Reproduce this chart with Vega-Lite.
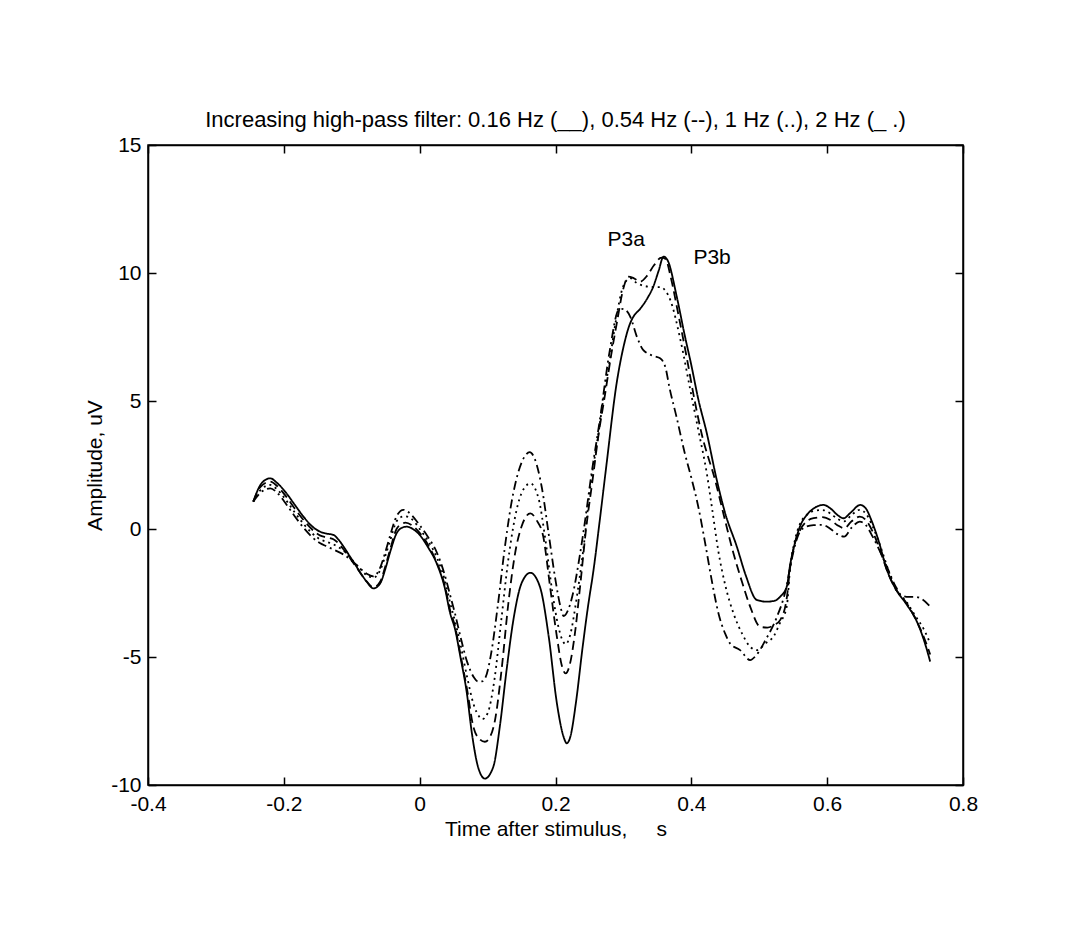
{
  "$schema": "https://vega.github.io/schema/vega-lite/v6.json",
  "width": 815,
  "height": 640,
  "autosize": "none",
  "padding": {"left": 148, "top": 145, "right": 103, "bottom": 159},
  "background": "white",
  "config": {
    "font": "Liberation Sans",
    "view": {"stroke": "black", "strokeWidth": 1.5},
    "axis": {
      "domainColor": "black", "domainWidth": 1.5,
      "tickColor": "black", "tickWidth": 1.5, "tickSize": -8,
      "labelColor": "black", "titleColor": "black",
      "labelFont": "Liberation Sans", "titleFont": "Liberation Sans",
      "labelFontSize": 21, "titleFontSize": 21, "titleFontWeight": "normal",
      "grid": false, "labelFlush": false, "labelOverlap": false, "labelBound": false
    }
  },
  "title": {
    "text": "Increasing high-pass filter: 0.16 Hz (__), 0.54 Hz (--), 1 Hz (..), 2 Hz (_ .)",
    "font": "Liberation Sans", "fontSize": 22, "fontWeight": "normal", "color": "black",
    "anchor": "middle", "offset": 2
  },
  "data": {"values": [
    {"f":"0.16 Hz","t":-0.245,"v":1.07},{"f":"0.16 Hz","t":-0.235,"v":1.7},{"f":"0.16 Hz","t":-0.225,"v":1.95},{"f":"0.16 Hz","t":-0.22,"v":1.98},{"f":"0.16 Hz","t":-0.21,"v":1.8},{"f":"0.16 Hz","t":-0.196,"v":1.39},{"f":"0.16 Hz","t":-0.184,"v":0.95},{"f":"0.16 Hz","t":-0.171,"v":0.48},{"f":"0.16 Hz","t":-0.159,"v":0.12},{"f":"0.16 Hz","t":-0.147,"v":-0.1},{"f":"0.16 Hz","t":-0.137,"v":-0.18},{"f":"0.16 Hz","t":-0.127,"v":-0.23},{"f":"0.16 Hz","t":-0.12,"v":-0.4},{"f":"0.16 Hz","t":-0.112,"v":-0.69},{"f":"0.16 Hz","t":-0.102,"v":-1.1},{"f":"0.16 Hz","t":-0.093,"v":-1.47},{"f":"0.16 Hz","t":-0.085,"v":-1.8},{"f":"0.16 Hz","t":-0.078,"v":-2.06},{"f":"0.16 Hz","t":-0.068,"v":-2.32},{"f":"0.16 Hz","t":-0.058,"v":-2.12},{"f":"0.16 Hz","t":-0.051,"v":-1.6},{"f":"0.16 Hz","t":-0.044,"v":-0.95},{"f":"0.16 Hz","t":-0.034,"v":-0.17},{"f":"0.16 Hz","t":-0.026,"v":0.05},{"f":"0.16 Hz","t":-0.019,"v":0.09},{"f":"0.16 Hz","t":-0.01,"v":0.0},{"f":"0.16 Hz","t":0.0,"v":-0.23},{"f":"0.16 Hz","t":0.012,"v":-0.7},{"f":"0.16 Hz","t":0.025,"v":-1.34},{"f":"0.16 Hz","t":0.037,"v":-2.3},{"f":"0.16 Hz","t":0.045,"v":-3.3},{"f":"0.16 Hz","t":0.052,"v":-3.9},{"f":"0.16 Hz","t":0.06,"v":-5.0},{"f":"0.16 Hz","t":0.0694,"v":-6.4},{"f":"0.16 Hz","t":0.077,"v":-8.0},{"f":"0.16 Hz","t":0.086,"v":-9.3},{"f":"0.16 Hz","t":0.096,"v":-9.75},{"f":"0.16 Hz","t":0.1085,"v":-9.28},{"f":"0.16 Hz","t":0.118,"v":-7.72},{"f":"0.16 Hz","t":0.128,"v":-5.5},{"f":"0.16 Hz","t":0.138,"v":-3.55},{"f":"0.16 Hz","t":0.15,"v":-2.12},{"f":"0.16 Hz","t":0.163,"v":-1.71},{"f":"0.16 Hz","t":0.177,"v":-2.25},{"f":"0.16 Hz","t":0.19,"v":-4.2},{"f":"0.16 Hz","t":0.202,"v":-6.8},{"f":"0.16 Hz","t":0.2117,"v":-8.1},{"f":"0.16 Hz","t":0.2166,"v":-8.37},{"f":"0.16 Hz","t":0.222,"v":-8.1},{"f":"0.16 Hz","t":0.23,"v":-6.8},{"f":"0.16 Hz","t":0.24,"v":-4.6},{"f":"0.16 Hz","t":0.248,"v":-3.0},{"f":"0.16 Hz","t":0.256,"v":-1.6},{"f":"0.16 Hz","t":0.265,"v":0.3},{"f":"0.16 Hz","t":0.275,"v":2.5},{"f":"0.16 Hz","t":0.29,"v":5.69},{"f":"0.16 Hz","t":0.3,"v":7.1},{"f":"0.16 Hz","t":0.31,"v":8.04},{"f":"0.16 Hz","t":0.3146,"v":8.29},{"f":"0.16 Hz","t":0.3246,"v":8.6},{"f":"0.16 Hz","t":0.335,"v":9.0},{"f":"0.16 Hz","t":0.344,"v":9.47},{"f":"0.16 Hz","t":0.352,"v":10.1},{"f":"0.16 Hz","t":0.359,"v":10.64},{"f":"0.16 Hz","t":0.365,"v":10.5},{"f":"0.16 Hz","t":0.3786,"v":9.07},{"f":"0.16 Hz","t":0.39,"v":7.6},{"f":"0.16 Hz","t":0.4,"v":6.4},{"f":"0.16 Hz","t":0.41,"v":5.1},{"f":"0.16 Hz","t":0.4228,"v":3.74},{"f":"0.16 Hz","t":0.4375,"v":1.91},{"f":"0.16 Hz","t":0.45,"v":0.6},{"f":"0.16 Hz","t":0.467,"v":-0.69},{"f":"0.16 Hz","t":0.48,"v":-1.8},{"f":"0.16 Hz","t":0.4963,"v":-2.77},{"f":"0.16 Hz","t":0.511,"v":-2.84},{"f":"0.16 Hz","t":0.523,"v":-2.8},{"f":"0.16 Hz","t":0.531,"v":-2.64},{"f":"0.16 Hz","t":0.5405,"v":-2.25},{"f":"0.16 Hz","t":0.5455,"v":-1.4},{"f":"0.16 Hz","t":0.552,"v":-0.6},{"f":"0.16 Hz","t":0.56,"v":0.1},{"f":"0.16 Hz","t":0.57,"v":0.55},{"f":"0.16 Hz","t":0.58,"v":0.8},{"f":"0.16 Hz","t":0.5946,"v":0.94},{"f":"0.16 Hz","t":0.605,"v":0.8},{"f":"0.16 Hz","t":0.615,"v":0.55},{"f":"0.16 Hz","t":0.624,"v":0.42},{"f":"0.16 Hz","t":0.635,"v":0.65},{"f":"0.16 Hz","t":0.6486,"v":0.94},{"f":"0.16 Hz","t":0.657,"v":0.8},{"f":"0.16 Hz","t":0.665,"v":0.35},{"f":"0.16 Hz","t":0.675,"v":-0.4},{"f":"0.16 Hz","t":0.688,"v":-1.6},{"f":"0.16 Hz","t":0.7,"v":-2.3},{"f":"0.16 Hz","t":0.717,"v":-2.95},{"f":"0.16 Hz","t":0.73,"v":-3.5},{"f":"0.16 Hz","t":0.742,"v":-4.3},{"f":"0.16 Hz","t":0.7517,"v":-5.18},

    {"f":"0.54 Hz","t":-0.245,"v":1.07},{"f":"0.54 Hz","t":-0.235,"v":1.62},{"f":"0.54 Hz","t":-0.22,"v":1.85},{"f":"0.54 Hz","t":-0.21,"v":1.68},{"f":"0.54 Hz","t":-0.196,"v":1.25},{"f":"0.54 Hz","t":-0.184,"v":0.8},{"f":"0.54 Hz","t":-0.171,"v":0.35},{"f":"0.54 Hz","t":-0.159,"v":0.0},{"f":"0.54 Hz","t":-0.147,"v":-0.25},{"f":"0.54 Hz","t":-0.137,"v":-0.33},{"f":"0.54 Hz","t":-0.127,"v":-0.4},{"f":"0.54 Hz","t":-0.12,"v":-0.55},{"f":"0.54 Hz","t":-0.112,"v":-0.8},{"f":"0.54 Hz","t":-0.093,"v":-1.5},{"f":"0.54 Hz","t":-0.078,"v":-2.05},{"f":"0.54 Hz","t":-0.068,"v":-2.28},{"f":"0.54 Hz","t":-0.058,"v":-2.05},{"f":"0.54 Hz","t":-0.051,"v":-1.5},{"f":"0.54 Hz","t":-0.044,"v":-0.85},{"f":"0.54 Hz","t":-0.034,"v":0.0},{"f":"0.54 Hz","t":-0.026,"v":0.2},{"f":"0.54 Hz","t":-0.021,"v":0.25},{"f":"0.54 Hz","t":-0.01,"v":0.12},{"f":"0.54 Hz","t":0.0,"v":-0.15},{"f":"0.54 Hz","t":0.012,"v":-0.6},{"f":"0.54 Hz","t":0.025,"v":-1.3},{"f":"0.54 Hz","t":0.037,"v":-2.2},{"f":"0.54 Hz","t":0.045,"v":-3.2},{"f":"0.54 Hz","t":0.052,"v":-3.8},{"f":"0.54 Hz","t":0.06,"v":-4.9},{"f":"0.54 Hz","t":0.07,"v":-6.3},{"f":"0.54 Hz","t":0.079,"v":-7.72},{"f":"0.54 Hz","t":0.088,"v":-8.2},{"f":"0.54 Hz","t":0.096,"v":-8.31},{"f":"0.54 Hz","t":0.104,"v":-8.1},{"f":"0.54 Hz","t":0.111,"v":-7.46},{"f":"0.54 Hz","t":0.1206,"v":-5.5},{"f":"0.54 Hz","t":0.1306,"v":-2.9},{"f":"0.54 Hz","t":0.1405,"v":-0.95},{"f":"0.54 Hz","t":0.15,"v":0.1},{"f":"0.54 Hz","t":0.163,"v":0.61},{"f":"0.54 Hz","t":0.172,"v":0.35},{"f":"0.54 Hz","t":0.182,"v":-0.3},{"f":"0.54 Hz","t":0.192,"v":-2.25},{"f":"0.54 Hz","t":0.202,"v":-4.2},{"f":"0.54 Hz","t":0.209,"v":-5.3},{"f":"0.54 Hz","t":0.215,"v":-5.64},{"f":"0.54 Hz","t":0.221,"v":-5.3},{"f":"0.54 Hz","t":0.228,"v":-4.2},{"f":"0.54 Hz","t":0.236,"v":-2.3},{"f":"0.54 Hz","t":0.245,"v":0.0},{"f":"0.54 Hz","t":0.255,"v":2.0},{"f":"0.54 Hz","t":0.264,"v":3.8},{"f":"0.54 Hz","t":0.272,"v":5.1},{"f":"0.54 Hz","t":0.282,"v":6.8},{"f":"0.54 Hz","t":0.29,"v":8.0},{"f":"0.54 Hz","t":0.3,"v":9.4},{"f":"0.54 Hz","t":0.307,"v":9.86},{"f":"0.54 Hz","t":0.315,"v":9.8},{"f":"0.54 Hz","t":0.3246,"v":9.66},{"f":"0.54 Hz","t":0.335,"v":9.9},{"f":"0.54 Hz","t":0.345,"v":10.3},{"f":"0.54 Hz","t":0.356,"v":10.6},{"f":"0.54 Hz","t":0.362,"v":10.55},{"f":"0.54 Hz","t":0.37,"v":9.8},{"f":"0.54 Hz","t":0.38,"v":8.5},{"f":"0.54 Hz","t":0.393,"v":6.73},{"f":"0.54 Hz","t":0.405,"v":5.0},{"f":"0.54 Hz","t":0.415,"v":3.74},{"f":"0.54 Hz","t":0.435,"v":1.91},{"f":"0.54 Hz","t":0.45,"v":0.3},{"f":"0.54 Hz","t":0.462,"v":-0.95},{"f":"0.54 Hz","t":0.475,"v":-2.1},{"f":"0.54 Hz","t":0.4866,"v":-3.03},{"f":"0.54 Hz","t":0.5013,"v":-3.82},{"f":"0.54 Hz","t":0.512,"v":-3.85},{"f":"0.54 Hz","t":0.522,"v":-3.75},{"f":"0.54 Hz","t":0.531,"v":-3.55},{"f":"0.54 Hz","t":0.5405,"v":-2.7},{"f":"0.54 Hz","t":0.5455,"v":-1.5},{"f":"0.54 Hz","t":0.552,"v":-0.6},{"f":"0.54 Hz","t":0.56,"v":-0.05},{"f":"0.54 Hz","t":0.57,"v":0.3},{"f":"0.54 Hz","t":0.58,"v":0.42},{"f":"0.54 Hz","t":0.593,"v":0.46},{"f":"0.54 Hz","t":0.605,"v":0.35},{"f":"0.54 Hz","t":0.615,"v":0.15},{"f":"0.54 Hz","t":0.625,"v":0.03},{"f":"0.54 Hz","t":0.636,"v":0.3},{"f":"0.54 Hz","t":0.648,"v":0.48},{"f":"0.54 Hz","t":0.657,"v":0.35},{"f":"0.54 Hz","t":0.667,"v":-0.1},{"f":"0.54 Hz","t":0.68,"v":-1.0},{"f":"0.54 Hz","t":0.69,"v":-1.75},{"f":"0.54 Hz","t":0.7,"v":-2.3},{"f":"0.54 Hz","t":0.717,"v":-2.9},{"f":"0.54 Hz","t":0.73,"v":-3.5},{"f":"0.54 Hz","t":0.742,"v":-4.2},{"f":"0.54 Hz","t":0.7517,"v":-4.9},

    {"f":"1 Hz","t":-0.245,"v":1.07},{"f":"1 Hz","t":-0.235,"v":1.5},{"f":"1 Hz","t":-0.22,"v":1.72},{"f":"1 Hz","t":-0.21,"v":1.55},{"f":"1 Hz","t":-0.196,"v":1.1},{"f":"1 Hz","t":-0.184,"v":0.65},{"f":"1 Hz","t":-0.171,"v":0.2},{"f":"1 Hz","t":-0.159,"v":-0.15},{"f":"1 Hz","t":-0.147,"v":-0.4},{"f":"1 Hz","t":-0.137,"v":-0.5},{"f":"1 Hz","t":-0.127,"v":-0.6},{"f":"1 Hz","t":-0.112,"v":-0.85},{"f":"1 Hz","t":-0.093,"v":-1.4},{"f":"1 Hz","t":-0.078,"v":-1.8},{"f":"1 Hz","t":-0.068,"v":-1.9},{"f":"1 Hz","t":-0.058,"v":-1.6},{"f":"1 Hz","t":-0.05,"v":-1.0},{"f":"1 Hz","t":-0.044,"v":-0.5},{"f":"1 Hz","t":-0.034,"v":0.3},{"f":"1 Hz","t":-0.026,"v":0.48},{"f":"1 Hz","t":-0.022,"v":0.5},{"f":"1 Hz","t":-0.01,"v":0.35},{"f":"1 Hz","t":0.0,"v":0.0},{"f":"1 Hz","t":0.012,"v":-0.45},{"f":"1 Hz","t":0.025,"v":-1.1},{"f":"1 Hz","t":0.037,"v":-2.0},{"f":"1 Hz","t":0.045,"v":-2.9},{"f":"1 Hz","t":0.052,"v":-3.6},{"f":"1 Hz","t":0.06,"v":-4.5},{"f":"1 Hz","t":0.07,"v":-5.8},{"f":"1 Hz","t":0.08,"v":-6.9},{"f":"1 Hz","t":0.087,"v":-7.3},{"f":"1 Hz","t":0.092,"v":-7.43},{"f":"1 Hz","t":0.1,"v":-7.2},{"f":"1 Hz","t":0.11,"v":-5.9},{"f":"1 Hz","t":0.12,"v":-3.6},{"f":"1 Hz","t":0.13,"v":-1.3},{"f":"1 Hz","t":0.14,"v":0.4},{"f":"1 Hz","t":0.15,"v":1.4},{"f":"1 Hz","t":0.163,"v":1.78},{"f":"1 Hz","t":0.175,"v":1.2},{"f":"1 Hz","t":0.185,"v":-0.4},{"f":"1 Hz","t":0.195,"v":-2.4},{"f":"1 Hz","t":0.205,"v":-3.9},{"f":"1 Hz","t":0.215,"v":-4.5},{"f":"1 Hz","t":0.222,"v":-4.1},{"f":"1 Hz","t":0.23,"v":-2.9},{"f":"1 Hz","t":0.24,"v":-1.0},{"f":"1 Hz","t":0.253,"v":2.0},{"f":"1 Hz","t":0.262,"v":3.5},{"f":"1 Hz","t":0.27,"v":5.0},{"f":"1 Hz","t":0.28,"v":6.6},{"f":"1 Hz","t":0.288,"v":8.0},{"f":"1 Hz","t":0.3,"v":9.5},{"f":"1 Hz","t":0.31,"v":9.8},{"f":"1 Hz","t":0.32,"v":9.6},{"f":"1 Hz","t":0.33,"v":9.5},{"f":"1 Hz","t":0.345,"v":9.45},{"f":"1 Hz","t":0.355,"v":9.45},{"f":"1 Hz","t":0.362,"v":9.3},{"f":"1 Hz","t":0.369,"v":8.95},{"f":"1 Hz","t":0.384,"v":7.38},{"f":"1 Hz","t":0.398,"v":5.5},{"f":"1 Hz","t":0.41,"v":3.9},{"f":"1 Hz","t":0.4228,"v":2.17},{"f":"1 Hz","t":0.43,"v":0.9},{"f":"1 Hz","t":0.44,"v":-0.9},{"f":"1 Hz","t":0.45,"v":-2.2},{"f":"1 Hz","t":0.462,"v":-3.29},{"f":"1 Hz","t":0.475,"v":-4.1},{"f":"1 Hz","t":0.4866,"v":-4.6},{"f":"1 Hz","t":0.4963,"v":-4.73},{"f":"1 Hz","t":0.51,"v":-4.45},{"f":"1 Hz","t":0.521,"v":-4.2},{"f":"1 Hz","t":0.53,"v":-3.7},{"f":"1 Hz","t":0.5405,"v":-3.03},{"f":"1 Hz","t":0.5455,"v":-1.5},{"f":"1 Hz","t":0.552,"v":-0.5},{"f":"1 Hz","t":0.56,"v":0.2},{"f":"1 Hz","t":0.57,"v":0.55},{"f":"1 Hz","t":0.58,"v":0.7},{"f":"1 Hz","t":0.593,"v":0.74},{"f":"1 Hz","t":0.605,"v":0.6},{"f":"1 Hz","t":0.615,"v":0.4},{"f":"1 Hz","t":0.625,"v":0.3},{"f":"1 Hz","t":0.636,"v":0.55},{"f":"1 Hz","t":0.648,"v":0.75},{"f":"1 Hz","t":0.657,"v":0.6},{"f":"1 Hz","t":0.667,"v":0.1},{"f":"1 Hz","t":0.68,"v":-0.8},{"f":"1 Hz","t":0.69,"v":-1.6},{"f":"1 Hz","t":0.7,"v":-2.3},{"f":"1 Hz","t":0.717,"v":-2.85},{"f":"1 Hz","t":0.73,"v":-3.4},{"f":"1 Hz","t":0.742,"v":-3.9},{"f":"1 Hz","t":0.7517,"v":-4.47},

    {"f":"2 Hz","t":-0.245,"v":1.07},{"f":"2 Hz","t":-0.235,"v":1.4},{"f":"2 Hz","t":-0.22,"v":1.59},{"f":"2 Hz","t":-0.21,"v":1.42},{"f":"2 Hz","t":-0.196,"v":0.95},{"f":"2 Hz","t":-0.184,"v":0.5},{"f":"2 Hz","t":-0.171,"v":0.05},{"f":"2 Hz","t":-0.159,"v":-0.3},{"f":"2 Hz","t":-0.147,"v":-0.55},{"f":"2 Hz","t":-0.137,"v":-0.68},{"f":"2 Hz","t":-0.127,"v":-0.8},{"f":"2 Hz","t":-0.112,"v":-1.0},{"f":"2 Hz","t":-0.093,"v":-1.4},{"f":"2 Hz","t":-0.078,"v":-1.75},{"f":"2 Hz","t":-0.068,"v":-1.85},{"f":"2 Hz","t":-0.058,"v":-1.5},{"f":"2 Hz","t":-0.05,"v":-0.85},{"f":"2 Hz","t":-0.044,"v":-0.3},{"f":"2 Hz","t":-0.034,"v":0.5},{"f":"2 Hz","t":-0.024,"v":0.75},{"f":"2 Hz","t":-0.012,"v":0.55},{"f":"2 Hz","t":0.0,"v":0.15},{"f":"2 Hz","t":0.012,"v":-0.3},{"f":"2 Hz","t":0.025,"v":-0.9},{"f":"2 Hz","t":0.037,"v":-1.8},{"f":"2 Hz","t":0.045,"v":-2.6},{"f":"2 Hz","t":0.052,"v":-3.3},{"f":"2 Hz","t":0.06,"v":-4.2},{"f":"2 Hz","t":0.07,"v":-5.2},{"f":"2 Hz","t":0.08,"v":-5.8},{"f":"2 Hz","t":0.086,"v":-5.96},{"f":"2 Hz","t":0.092,"v":-5.95},{"f":"2 Hz","t":0.097,"v":-5.8},{"f":"2 Hz","t":0.105,"v":-4.9},{"f":"2 Hz","t":0.115,"v":-3.0},{"f":"2 Hz","t":0.125,"v":-0.8},{"f":"2 Hz","t":0.135,"v":1.0},{"f":"2 Hz","t":0.145,"v":2.2},{"f":"2 Hz","t":0.155,"v":2.85},{"f":"2 Hz","t":0.162,"v":3.0},{"f":"2 Hz","t":0.17,"v":2.7},{"f":"2 Hz","t":0.18,"v":1.6},{"f":"2 Hz","t":0.19,"v":-0.2},{"f":"2 Hz","t":0.2,"v":-2.0},{"f":"2 Hz","t":0.207,"v":-3.0},{"f":"2 Hz","t":0.212,"v":-3.4},{"f":"2 Hz","t":0.218,"v":-3.2},{"f":"2 Hz","t":0.225,"v":-2.6},{"f":"2 Hz","t":0.236,"v":-1.0},{"f":"2 Hz","t":0.245,"v":0.6},{"f":"2 Hz","t":0.251,"v":1.78},{"f":"2 Hz","t":0.266,"v":4.39},{"f":"2 Hz","t":0.28,"v":6.99},{"f":"2 Hz","t":0.293,"v":8.55},{"f":"2 Hz","t":0.3,"v":8.6},{"f":"2 Hz","t":0.31,"v":8.3},{"f":"2 Hz","t":0.32,"v":7.5},{"f":"2 Hz","t":0.329,"v":7.0},{"f":"2 Hz","t":0.345,"v":6.75},{"f":"2 Hz","t":0.354,"v":6.67},{"f":"2 Hz","t":0.362,"v":6.3},{"f":"2 Hz","t":0.368,"v":5.5},{"f":"2 Hz","t":0.378,"v":4.4},{"f":"2 Hz","t":0.39,"v":3.0},{"f":"2 Hz","t":0.4,"v":2.0},{"f":"2 Hz","t":0.41,"v":0.9},{"f":"2 Hz","t":0.42,"v":-0.5},{"f":"2 Hz","t":0.43,"v":-2.0},{"f":"2 Hz","t":0.44,"v":-3.3},{"f":"2 Hz","t":0.45,"v":-4.1},{"f":"2 Hz","t":0.457,"v":-4.47},{"f":"2 Hz","t":0.4718,"v":-4.73},{"f":"2 Hz","t":0.4866,"v":-5.12},{"f":"2 Hz","t":0.495,"v":-4.95},{"f":"2 Hz","t":0.51,"v":-4.3},{"f":"2 Hz","t":0.525,"v":-3.5},{"f":"2 Hz","t":0.5405,"v":-2.2},{"f":"2 Hz","t":0.5455,"v":-1.5},{"f":"2 Hz","t":0.552,"v":-0.7},{"f":"2 Hz","t":0.56,"v":-0.1},{"f":"2 Hz","t":0.57,"v":0.1},{"f":"2 Hz","t":0.58,"v":0.15},{"f":"2 Hz","t":0.593,"v":0.16},{"f":"2 Hz","t":0.605,"v":0.0},{"f":"2 Hz","t":0.615,"v":-0.2},{"f":"2 Hz","t":0.625,"v":-0.3},{"f":"2 Hz","t":0.636,"v":0.05},{"f":"2 Hz","t":0.648,"v":0.29},{"f":"2 Hz","t":0.657,"v":0.15},{"f":"2 Hz","t":0.667,"v":-0.3},{"f":"2 Hz","t":0.68,"v":-1.0},{"f":"2 Hz","t":0.69,"v":-1.6},{"f":"2 Hz","t":0.7,"v":-2.2},{"f":"2 Hz","t":0.71,"v":-2.6},{"f":"2 Hz","t":0.72,"v":-2.65},{"f":"2 Hz","t":0.73,"v":-2.65},{"f":"2 Hz","t":0.74,"v":-2.75},{"f":"2 Hz","t":0.7517,"v":-3.03}
  ]},
  "layer": [
    {
      "mark": {"type": "line", "color": "black", "strokeWidth": 1.8, "interpolate": "monotone"},
      "encoding": {
        "x": {"field": "t", "type": "quantitative",
          "scale": {"domain": [-0.4, 0.8], "nice": false, "zero": false},
          "axis": {"values": [-0.4, -0.2, 0, 0.2, 0.4, 0.6, 0.8], "labelExpr": "datum.value + ''",
            "title": "Time after stimulus,\u00a0\u00a0\u00a0\u00a0\u00a0s", "labelPadding": 16, "titlePadding": 4}},
        "y": {"field": "v", "type": "quantitative",
          "scale": {"domain": [-10, 15], "nice": false, "zero": false},
          "axis": {"values": [-10, -5, 0, 5, 10, 15], "labelExpr": "datum.value + ''",
            "title": "Amplitude, uV", "labelPadding": 15, "titlePadding": 5}},
        "strokeDash": {"field": "f", "type": "nominal",
          "scale": {"domain": ["0.16 Hz", "0.54 Hz", "1 Hz", "2 Hz"], "range": [[1, 0], [9, 5], [2, 4], [9, 4, 2, 4]]},
          "legend": null}
      }
    },
    {
      "data": {"values": [{"t": 0.304, "v": 11.29, "lab": "P3a"}, {"t": 0.4306, "v": 10.59, "lab": "P3b"}]},
      "mark": {"type": "text", "font": "Liberation Sans", "fontSize": 21, "color": "black", "align": "center", "baseline": "middle"},
      "encoding": {
        "x": {"field": "t", "type": "quantitative", "axis": null},
        "y": {"field": "v", "type": "quantitative", "axis": null},
        "text": {"field": "lab"}
      }
    },
    {
      "mark": {"type": "point", "opacity": 0},
      "encoding": {
        "x": {"field": "t", "type": "quantitative",
          "axis": {"orient": "top", "values": [-0.4, -0.2, 0, 0.2, 0.4, 0.6, 0.8], "labels": false, "title": null}},
        "y": {"field": "v", "type": "quantitative",
          "axis": {"orient": "right", "values": [-10, -5, 0, 5, 10, 15], "labels": false, "title": null}}
      }
    }
  ],
  "resolve": {"axis": {"x": "independent", "y": "independent"}}
}
